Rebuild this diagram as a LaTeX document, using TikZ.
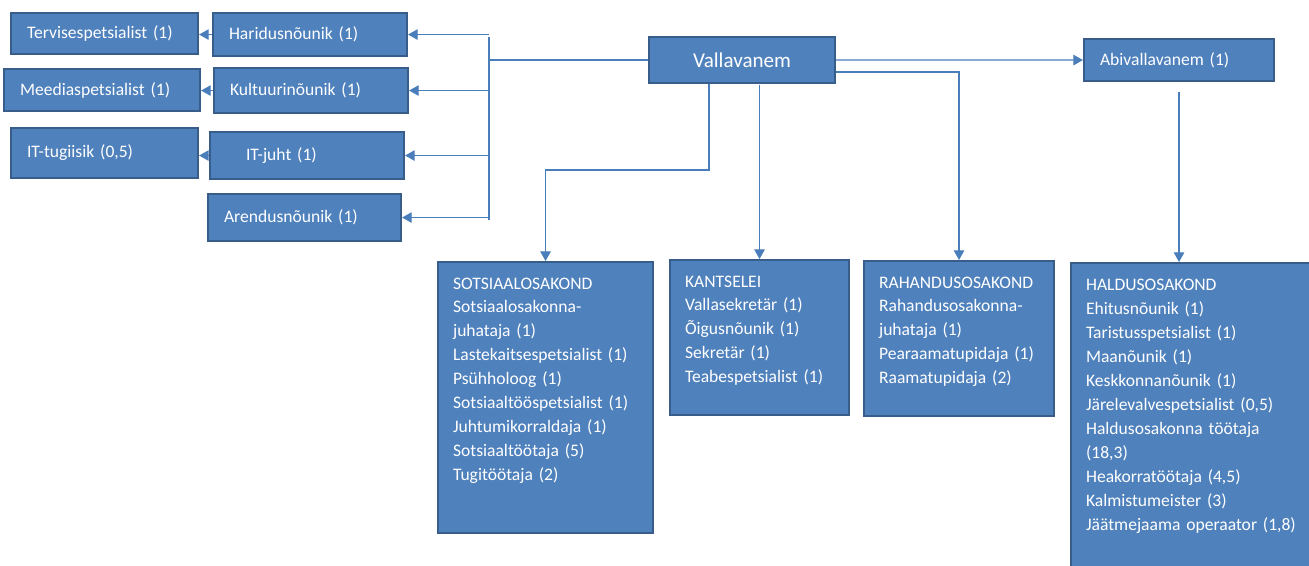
\documentclass[tikz,border=0pt]{standalone}
\usepackage{fontspec}
\setmainfont{Carlito}
\usetikzlibrary{arrows.meta,positioning}

\definecolor{boxblue}{HTML}{4F81BD}
\definecolor{boxedge}{HTML}{385D8A}
\definecolor{linkblue}{HTML}{4A7EBB}

\begin{document}
\begin{tikzpicture}[x=0.02cm,y=-0.02cm,>={Triangle[length=5.5pt,width=6pt]},
  box/.style={draw=boxedge,line width=1.2pt,fill=boxblue,text=white,
    font=\fontsize{10}{13.6}\selectfont,inner xsep=0.32cm,inner ysep=0pt},
  unit/.style 2 args={box,anchor=north west,align=left,text width=#1,minimum height=#2},
  dept/.style 2 args={box,anchor=north west,align=left,inner xsep=0.3cm,inner ysep=0.1cm,
    text width=#1,text height=0.44cm,text depth=#2},
  link/.style={draw=linkblue,line width=0.7pt}]
  \useasboundingbox (0,0) rectangle (1309,565);
  \clip (0,0) rectangle (1309,565);

  % top row
  \node (vallavanem) [box,anchor=north west,align=center,text width=3.08cm,minimum height=0.92cm,
    font=\fontsize{12}{14}\selectfont] at (648,36) {Vallavanem};
  \node (abi) [unit={3.16cm}{0.84cm}] at (1083,38) {Abivallavanem (1)};

  % left side
  \node (terv)    [unit={3.10cm}{0.82cm}] at (10,12)   {Tervisespetsialist (1)};
  \node (harid)   [unit={3.24cm}{0.86cm}] at (212,12)  {Haridusnõunik (1)};
  \node (meedia)  [unit={3.28cm}{0.84cm}] at (3,68)    {Meediaspetsialist (1)};
  \node (kultuur) [unit={3.24cm}{0.90cm}] at (213,67)  {Kultuurinõunik (1)};
  \node (ittugi)  [unit={3.10cm}{1.00cm}] at (10,127)  {IT-tugiisik (0,5)};
  \node (itjuht)  [unit={3.24cm}{0.94cm}] at (209,131) {\hspace*{0.4cm}IT-juht (1)};
  \node (arendus) [unit={3.22cm}{0.94cm}] at (207,193) {Arendusnõunik (1)};

  % departments
  \node (sotsiaal) [dept={3.70cm}{4.78cm}] at (437,261) {SOTSIAALOSAKOND\\Sotsiaalosakonna-\\juhataja (1)\\
    Lastekaitsespetsialist (1)\\Psühholoog (1)\\Sotsiaaltööspetsialist (1)\\Juhtumikorraldaja (1)\\
    Sotsiaaltöötaja (5)\\Tugitöötaja (2)};
  \node (kantselei) [dept={2.98cm}{2.46cm}] at (669,259) {KANTSELEI\\Vallasekretär (1)\\Õigusnõunik (1)\\
    Sekretär (1)\\Teabespetsialist (1)};
  \node (rahandus) [dept={3.20cm}{2.46cm}] at (863,260) {RAHANDUSOSAKOND\\Rahandusosakonna-\\juhataja (1)\\
    Pearaamatupidaja (1)\\Raamatupidaja (2)};
  \node (haldus) [dept={4.40cm}{5.56cm},font=\fontsize{10}{13.7}\selectfont] at (1070,262)
    {HALDUSOSAKOND\\Ehitusnõunik (1)\\Taristusspetsialist (1)\\Maanõunik (1)\\Keskkonnanõunik (1)\\
    Järelevalvespetsialist (0,5)\\Haldusosakonna töötaja\\(18,3)\\Heakorratöötaja (4,5)\\
    Kalmistumeister (3)\\Jäätmejaama operaator (1,8)};

  % connectors
  \coordinate (bustop) at (489,37);
  \coordinate (busbot) at (489,220);
  \coordinate (sotsturn) at (709,170);
  \draw[link] (bustop) -- (busbot);
  \draw[link] (vallavanem.west) -- (vallavanem.west -| bustop);
  \foreach \n in {harid,kultuur,itjuht,arendus}
    \draw[link,->] (bustop |- \n.east) -- (\n.east);
  \draw[link,->] (harid.west) -- (terv.east |- harid.west);
  \draw[link,->] (kultuur.west) -- (meedia.east |- kultuur.west);
  \draw[link,->] (itjuht.west) -- (ittugi.east |- itjuht.west);
  \draw[link,->] (vallavanem.east) -- (abi.west);
  \draw[link,->] ([yshift=-0.24cm]vallavanem.east) -| (rahandus.north);
  \draw[link,->] (vallavanem.south -| sotsturn) -- (sotsturn) -| (sotsiaal.north);
  \draw[link,->] ([yshift=-0.02cm]vallavanem.south -| kantselei.north) -- (kantselei.north);
  \draw[link,->] ([yshift=-0.2cm]abi.south) -- (abi.south |- haldus.north);
\end{tikzpicture}
\end{document}
